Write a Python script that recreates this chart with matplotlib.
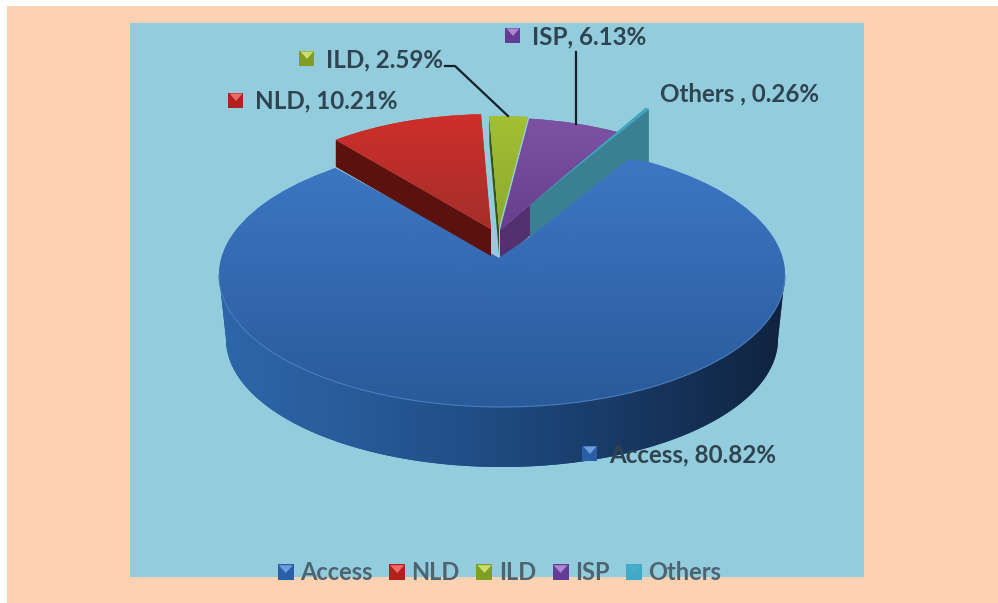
import numpy as np
import matplotlib
matplotlib.use("Agg")
import matplotlib.pyplot as plt
from matplotlib.colors import LinearSegmentedColormap as LSC
from matplotlib.legend_handler import HandlerBase
from matplotlib.patches import Polygon, Rectangle, Patch

# ---- data ----
categories = ["Access", "NLD", "ILD", "ISP", "Others"]
values = [80.82, 10.21, 2.59, 6.13, 0.26]
label_texts = ["Access, 80.82%", "NLD, 10.21%", "ILD, 2.59%", "ISP, 6.13%", "Others , 0.26%"]

# ---- style ----
W, H = 998, 603
PEACH, PANEL = "#FDD2B2", "#93CCDD"
top_colors = {"Access": ["#3E79C6", "#295A9A"], "NLD": ["#CF2F2B", "#A42E2A"],
              "ILD": ["#A2C034", "#8CAA2C"], "ISP": ["#7D52A4", "#673F8E"],
              "Others": ["#3FA5BF", "#3FA5BF"]}
wall_colors = {"NLD": "#5B120F", "ILD": "#3C5214", "ISP": "#53306F", "Others": "#3A8092"}
icon_colors = {"Access": ("#2A5EA6", "#6E9EDC"), "NLD": ("#B3211F", "#EE6B6B"),
               "ILD": ("#7F9E22", "#C9DE6C"), "ISP": ("#643C96", "#A98AD0"),
               "Others": ("#3FA9C6", "#44AECB")}
CX, CY, RX, RY = 502, 275, 283, 132
# bottom rim of the disc is slightly smaller (perspective)
BOT_CY, BOT_RX, BOT_RY = 339, 276, 128
# per-slice apex (pixels) and radius of the exploded top surfaces
apex = {"Access": (502, 275), "NLD": (491, 229), "ILD": (499, 227), "ISP": (500, 230), "Others": (530, 205)}
radius = {"Access": 1.0, "NLD": 0.87, "ILD": 0.84, "ISP": 0.85, "Others": 0.84}
TEXT = "#2F4450"
LEG = "#4D6470"
FONT = "Lato"
FS = 17.4


def D(x, y):
    return ((x - CX) / RX, (CY - y) / RY)


fig = plt.figure(figsize=(W / 100, H / 100), dpi=100, facecolor="white")
bg = fig.add_axes([0, 0, 1, 1], zorder=0)
bg.set_xlim(0, W); bg.set_ylim(H, 0); bg.axis("off")
bg.add_patch(Rectangle((7, 6), W - 7, H - 6, fc=PEACH, ec="none"))
bg.add_patch(Rectangle((130, 23), 734, 554, fc=PANEL, ec="none"))

ax = fig.add_axes([0, 0, 1, 1], zorder=1)
wedges, _ = ax.pie(values, startangle=60, counterclock=False, radius=1,
                   colors=[top_colors[c][0] for c in categories],
                   wedgeprops=dict(linewidth=0))
ax.set_aspect("auto")
XL = ((0 - CX) / RX, (W - CX) / RX)
YL = ((CY - H) / RY, CY / RY)


def grad(patch, colors, vertical=True, z=3, ext=None):
    cm = LSC.from_list("g", colors)
    g = np.linspace(0, 1, 256)
    g = g[:, None] if vertical else g[None, :]
    if ext is None:
        e = patch.get_path().transformed(patch.get_patch_transform()).get_extents()
        ext = [e.x0, e.x1, e.y0, e.y1]
    im = ax.imshow(g, cmap=cm, vmin=0, vmax=1, aspect="auto", zorder=z, interpolation="bilinear",
                   extent=ext, origin="upper")
    im.set_clip_path(patch)
    return im


by_name = dict(zip(categories, wedges))
for c, w in by_name.items():
    w.set_center(D(*apex[c]))
    w.set_radius(radius[c])


def edge_wall(c, theta, near, far, z):
    cx0, cy0 = D(*apex[c])
    t = np.radians(theta)
    r = radius[c]
    tip = (cx0 + r * np.cos(t), cy0 + r * np.sin(t))
    pts = [(cx0, cy0), tip, (tip[0], tip[1] - far / RY), (cx0, cy0 - near / RY)]
    ax.add_patch(Polygon(pts, closed=True, fc=wall_colors[c], ec="none", zorder=z))


# walls of the exploded slices, using the angles the pie computed
edge_wall("ISP", by_name["ISP"].theta1, 31, 31, 2)
edge_wall("Others", by_name["Others"].theta1, 32, 53, 2.2)
edge_wall("NLD", by_name["NLD"].theta2, 27, 27, 4.3)
edge_wall("ILD", by_name["ILD"].theta2, 27, 27, 2.1)

# outer wall of the main slice
th = np.radians(np.linspace(180, 360, 300))
bx = BOT_RX / RX * np.cos(th[::-1])
by = (CY - BOT_CY) / RY + BOT_RY / RY * np.sin(th[::-1])
wall_pts = np.r_[np.c_[np.cos(th), np.sin(th)], np.c_[bx, by]]
wall = Polygon(wall_pts, closed=True, fc="#1F4B82", ec="none", zorder=3)
ax.add_patch(wall)
grad(wall, ["#2D67AA", "#285A98", "#1E4A80", "#17365F", "#10233F"], vertical=False, z=3)

# main slice top, plus the part round the displaced apex (same shared gradient)
acc = by_name["Access"]
acc.set_zorder(4)
TOP_EXT = [-1, 1, -1, 1]
grad(acc, top_colors["Access"], z=4, ext=TOP_EXT)
inner = [D(324, 172.5), D(335, 168), D(499, 258), D(530, 237), D(628, 160), D(643, 161),
         D(650, 175), D(502, 295), D(330, 182)]
fill = Polygon(inner, closed=True, fc=top_colors["Access"][0], ec="none", zorder=4.2)
ax.add_patch(fill)
grad(fill, top_colors["Access"], z=4.2, ext=TOP_EXT)
ax.plot(np.cos(th), np.sin(th), color="#4A7DBE", lw=0.8, zorder=4.5)

# exploded top surfaces
for i, c in enumerate(categories[1:]):
    w = by_name[c]
    w.set_zorder(5 + i)
    grad(w, top_colors[c], z=5 + i)

ax.set_xlim(*XL); ax.set_ylim(*YL); ax.axis("off")

# overlay in pixels
top = fig.add_axes([0, 0, 1, 1], zorder=2)
top.set_xlim(0, W); top.set_ylim(H, 0); top.axis("off"); top.patch.set_alpha(0)


def icon(a, x, y, c, s=15):
    dark, light = icon_colors[c]
    a.add_patch(Rectangle((x - s / 2, y - s / 2), s, s, fc=dark, ec="none", zorder=9))
    a.add_patch(Polygon([(x - s / 2 + 1, y - s / 2 + 1), (x + s / 2 - 1, y - s / 2 + 1), (x, y + 1)],
                        closed=True, fc=light, ec="none", zorder=10))


label_pos = {"Access": (609, 455, 590, 453), "NLD": (255, 101, 236, 100), "ILD": (326, 60, 307, 58),
             "ISP": (532, 37, 513, 35), "Others": (660, 94, None, None)}
for c, s in zip(categories, label_texts):
    tx, ty, ix, iy = label_pos[c]
    if ix is not None:
        icon(top, ix, iy, c)
    top.text(tx, ty, s, family=FONT, weight="bold", size=FS, color=TEXT, va="center", ha="left", zorder=11)

top.plot([445, 455, 508], [66, 66, 116], color="#14202A", lw=1.6, zorder=8)
top.plot([576, 576], [52, 124], color="#14202A", lw=1.6, zorder=8)


# legend
class IconHandler(HandlerBase):
    def create_artists(self, legend, orig, x, y, w, h, fs, trans):
        dark, light = orig.get_facecolor(), orig.get_edgecolor()
        s = 11.5
        y0 = y + (h - s) / 2
        r = Rectangle((x, y0), s, s, fc=dark, ec="none", transform=trans)
        t = Polygon([(x + .7, y0 + s - .7), (x + s - .7, y0 + s - .7), (x + s / 2, y0 + s / 2 - .5)],
                    closed=True, fc=light, ec="none", transform=trans)
        return [r, t]


handles = [Patch(fc=icon_colors[c][0], ec=icon_colors[c][1]) for c in categories]
top.legend(handles, categories, handler_map={Patch: IconHandler()}, ncol=5, frameon=False,
           loc="center", bbox_to_anchor=(499.5, 573), bbox_transform=top.transData,
           prop=dict(family=FONT, weight="bold", size=17), labelcolor=LEG,
           handlelength=0.68, handletextpad=0.26, columnspacing=0.71, borderpad=0, borderaxespad=0)

fig.savefig("out.png", dpi=100, facecolor="white")
